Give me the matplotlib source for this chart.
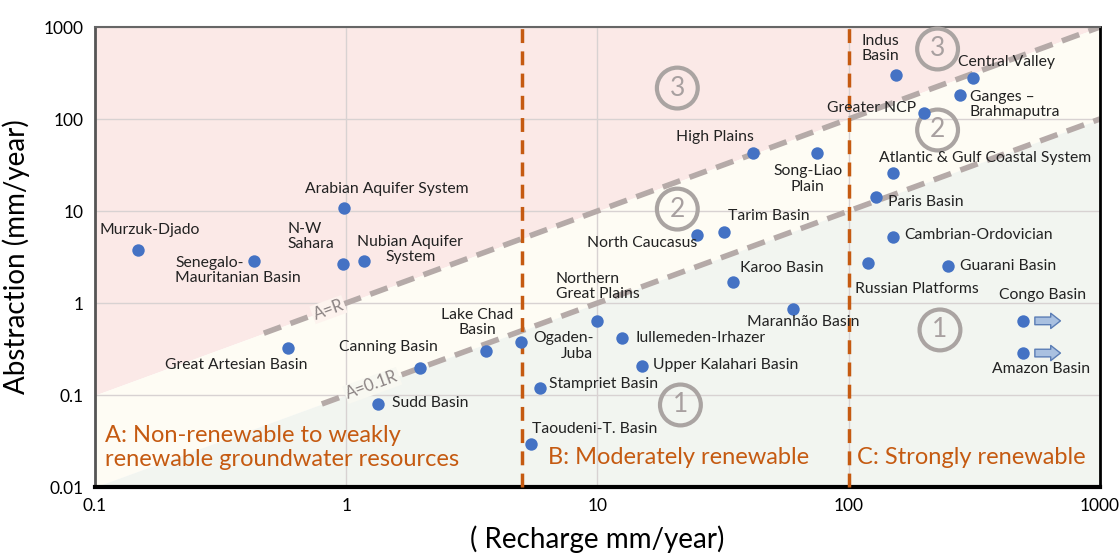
import matplotlib
matplotlib.use("Agg")
import matplotlib.pyplot as plt
import numpy as np

plt.rcParams['font.family'] = ['Lato', 'DejaVu Sans']

# aquifer data: recharge (mm/yr), abstraction (mm/yr)
names = ["Murzuk-Djado", "Senegalo-\nMauritanian Basin", "Arabian Aquifer System", "N-W\nSahara",
         "Nubian Aquifer\nSystem", "Great Artesian Basin", "Canning Basin", "Sudd Basin",
         "Lake Chad\nBasin", "Ogaden-\nJuba", "Northern\nGreat Plains", "Iullemeden-Irhazer",
         "Upper Kalahari Basin", "Stampriet Basin", "Taoudeni-T. Basin", "Karoo Basin",
         "Maranhão Basin", "North Caucasus", "Tarim Basin", "High Plains", "Song-Liao\nPlain",
         "Indus\nBasin", "Central Valley", "Ganges –\nBrahmaputra", "Greater NCP",
         "Atlantic & Gulf Coastal System", "Paris Basin", "Cambrian-Ordovician",
         "Russian Platforms", "Guarani Basin", "Congo Basin", "Amazon Basin"]
recharge = [0.148, 0.43, 0.98, 0.97, 1.18, 0.588, 1.97, 1.34, 3.61, 4.98, 9.96, 12.5,
            15.0, 5.93, 5.46, 34.8, 59.8, 24.8, 31.8, 41.7, 74.6, 154, 312, 277, 199,
            150, 129, 150, 119, 248, 493, 493]
abstraction = [3.77, 2.86, 10.8, 2.65, 2.86, 0.324, 0.196, 0.080, 0.30, 0.377, 0.64, 0.417,
               0.207, 0.119, 0.0293, 1.69, 0.86, 5.49, 5.9, 42.7, 42.7, 300, 279, 182, 116,
               25.9, 14.2, 5.2, 2.72, 2.52, 0.64, 0.286]
open_ended = ["Congo Basin", "Amazon Basin"]

# label placement: (dx px, dy px, ha, multialign)
label_pos = {
    "Murzuk-Djado": (12, 20, "center", "center"),
    "Senegalo-\nMauritanian Basin": (-79, -9, "left", "left"),
    "Arabian Aquifer System": (43, 19, "center", "center"),
    "N-W\nSahara": (-55, 28, "left", "left"),
    "Nubian Aquifer\nSystem": (46, 12, "center", "center"),
    "Great Artesian Basin": (-52, -17, "center", "center"),
    "Canning Basin": (-32, 21, "center", "center"),
    "Sudd Basin": (14, 1, "left", "left"),
    "Lake Chad\nBasin": (-9, 29, "center", "center"),
    "Ogaden-\nJuba": (72, -4, "right", "right"),
    "Northern\nGreat Plains": (-41, 34, "left", "left"),
    "Iullemeden-Irhazer": (14, 0, "left", "left"),
    "Upper Kalahari Basin": (11, 1, "left", "left"),
    "Stampriet Basin": (9, 4, "left", "left"),
    "Taoudeni-T. Basin": (1, 15, "left", "left"),
    "Karoo Basin": (7, 14, "left", "left"),
    "Maranhão Basin": (11, -13, "center", "center"),
    "North Caucasus": (1, -8, "right", "right"),
    "Tarim Basin": (4, 16, "left", "left"),
    "High Plains": (-38, 16, "center", "center"),
    "Song-Liao\nPlain": (-9, -26, "center", "center"),
    "Indus\nBasin": (-34, 27, "left", "left"),
    "Central Valley": (-15, 16, "left", "left"),
    "Ganges –\nBrahmaputra": (10, -9, "left", "left"),
    "Greater NCP": (-8, 5, "right", "right"),
    "Atlantic & Gulf Coastal System": (-14, 15, "left", "left"),
    "Paris Basin": (12, -5, "left", "left"),
    "Cambrian-Ordovician": (11, 2, "left", "left"),
    "Russian Platforms": (-13, -26, "left", "left"),
    "Guarani Basin": (12, 0, "left", "left"),
    "Congo Basin": (20, 26, "center", "center"),
    "Amazon Basin": (18, -16, "center", "center"),
}

x_ticks = [0.1, 1, 10, 100, 1000]
y_ticks = [0.01, 0.1, 1, 10, 100, 1000]
zone_limits = [5, 100]

fig = plt.figure(figsize=(11.2, 5.56), dpi=100)
ax = fig.add_axes([0.0848, 0.124, 0.8972, 0.8274])
ax.set_xscale("log")
ax.set_yscale("log")
ax.set_xlim(0.1, 1000)
ax.set_ylim(0.01, 1000)

# background zones
xx = np.array([0.1, 1000])
ax.fill_between(xx, xx, 1000, color="#fbe9e7", zorder=0, lw=0)
ax.fill_between(xx, 0.1 * xx, xx, color="#fefcf4", zorder=0, lw=0)
ax.fill_between(xx, 0.01, 0.1 * xx, color="#f2f5f0", zorder=0, lw=0)

ax.grid(True, which="major", color="#d8d2d2", lw=1, zorder=1)
ax.tick_params(length=0, labelsize=12.5, pad=8)
ax.set_xticks(x_ticks)
ax.set_xticklabels([f"{t:g}" for t in x_ticks])
ax.set_yticks(y_ticks)
ax.set_yticklabels([f"{t:g}" for t in y_ticks])
ax.minorticks_off()

for side, c, w in [("left", "#555555", 2), ("top", "#666666", 1.5),
                   ("bottom", "black", 3), ("right", "black", 2)]:
    ax.spines[side].set_color(c)
    ax.spines[side].set_linewidth(w)

# A=R and A=0.1R lines
ar = np.array([0.47, 1000])
ax.plot(ar, ar, color="#b5aaa8", lw=4, dashes=(3.3, 1.8), zorder=2)
ar2 = np.array([0.8, 1000])
ax.plot(ar2, 0.1 * ar2, color="#b5aaa8", lw=4, dashes=(3.3, 1.8), zorder=2)
ax.text(0.85, 0.85, "A=R", rotation=20, color="#8c8484", fontsize=12, ha="center",
        va="center", zorder=3, bbox=dict(fc="#fdf3ee", ec="none", pad=1))
ax.text(1.27, 0.127, "A=0.1R", rotation=20, color="#8c8484", fontsize=12, ha="center",
        va="center", zorder=3, bbox=dict(fc="#f8f8f1", ec="none", pad=1))

for z in zone_limits:
    ax.axvline(z, ymax=1.01, color="#c55a11", lw=2.5, dashes=(4, 2.4), zorder=3, clip_on=False)

# circled numbers
for cx, cy, num in [(20.8, 217, "3"), (20.8, 10.5, "2"), (21.4, 0.078, "1"),
                    (226, 577, "3"), (226, 76, "2"), (231, 0.51, "1")]:
    ax.text(cx, cy, num, fontsize=19, color="#a8a0a0", ha="center", va="center", zorder=3,
            bbox=dict(boxstyle="circle,pad=0.3", fc="none", ec="#aaa4a2", lw=3))

# zone labels
ax.text(0.11, 0.027, "A: Non-renewable to weakly\nrenewable groundwater resources",
        color="#c55a11", fontsize=17, ha="left", va="center", linespacing=1.15, zorder=3)
ax.text(6.38, 0.0207, "B: Moderately renewable", color="#c55a11", fontsize=17,
        ha="left", va="center", zorder=3)
ax.text(108, 0.0207, "C: Strongly renewable", color="#c55a11", fontsize=17,
        ha="left", va="center", zorder=3)

ax.scatter(recharge, abstraction, s=80, color="#4472c4", zorder=5, lw=0)

for n, x, y in zip(names, recharge, abstraction):
    dx, dy, ha, ma = label_pos[n]
    ax.annotate(n, (x, y), xytext=(dx, dy), textcoords="offset pixels", ha=ha, va="center",
                multialignment=ma, fontsize=11.3, color="#222222", zorder=6, linespacing=1.1)
    if n in open_ended:
        ax.annotate("", xy=(x * 1.45, y), xytext=(x * 1.09, y), zorder=6,
                    arrowprops=dict(arrowstyle="simple,head_width=1.1,head_length=0.7,tail_width=0.55",
                                    fc="#a9c0e0", ec="#5b7db5", lw=1))

ax.set_xlabel("( Recharge mm/year)", fontsize=20, labelpad=8)
ax.set_ylabel("Abstraction (mm/year)", fontsize=20, labelpad=10)

fig.savefig("out.png", dpi=100)
